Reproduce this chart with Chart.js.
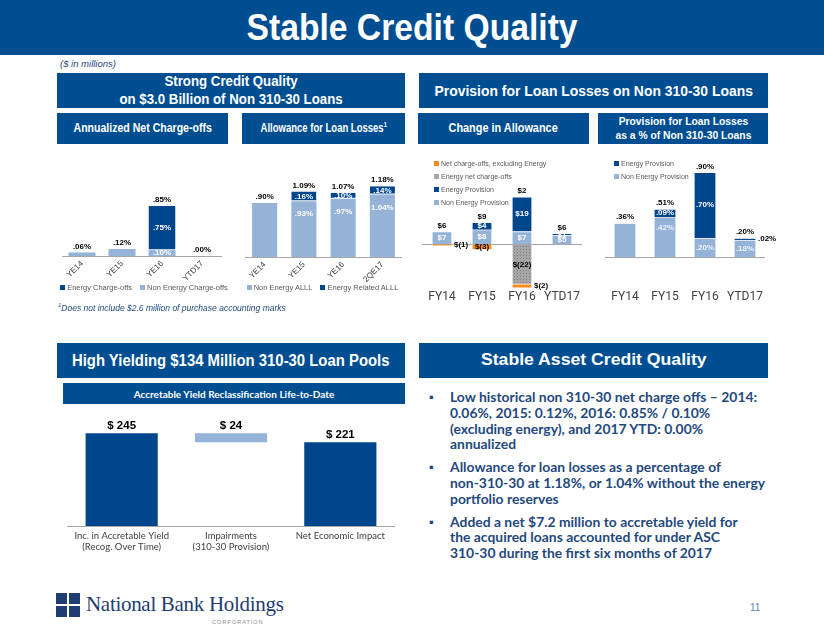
<!DOCTYPE html>
<html>
<head>
<meta charset="utf-8">
<title>Stable Credit Quality</title>
<script src="https://cdn.jsdelivr.net/npm/chart.js@4.4.1/dist/chart.umd.min.js"></script>
<style>
  body { margin: 0; background: #fff; }
  #slide { position: relative; width: 824px; height: 637px; overflow: hidden; font-family: "Liberation Sans", Arial, sans-serif; }
  .box { position: absolute; background: #004e92; color: #fff; display: flex; align-items: center; justify-content: center;
         text-align: center; font-family: "Liberation Sans", Arial, sans-serif; font-weight: bold; line-height: 1.2; }
  .box sup { font-size: 60%; }
  .fit { display: inline-block; white-space: nowrap; }
  canvas { position: absolute; }
  .legend { position: absolute; font-size: 7.5px; color: #595959; white-space: nowrap; line-height: 13px; }
  .legend i { display: inline-block; width: 5px; height: 5px; margin-right: 2px; vertical-align: 0px; }
  .legend.row span { margin: 0 4px; }
  .legend.col { font-size: 7px; }
  .note { position: absolute; font-style: italic; color: #1f497d; white-space: nowrap; }
  #bullets { position: absolute; left: 429px; top: 389px; font-family: Lato, "Liberation Sans", sans-serif; font-weight: bold;
             font-size: 13.9px; line-height: 15.8px; color: #1f497d; }
  #bullets div { position: relative; padding-left: 21px; margin-bottom: 7px; white-space: nowrap; }
  #bullets div:before { content: "\25AA"; position: absolute; left: 0; top: 0; font-size: 11px; }
</style>
</head>
<body>
<div id="slide">
  <div class="box" style="left:0;top:0;width:824px;height:55px;font-size:36px;"><span class="fit" data-w="331">Stable Credit Quality</span></div>
  <div class="note" style="left:60px;top:58px;font-size:9.5px;">($ in millions)</div>

  <div class="box" style="left:57px;top:73px;width:348px;height:35px;font-size:14.5px;"><span class="fit" data-w="223">Strong Credit Quality<br>on $3.0 Billion of Non 310-30 Loans</span></div>
  <div class="box" style="left:419px;top:73px;width:349px;height:35px;font-size:15px;"><span class="fit" data-w="318">Provision for Loan Losses on Non 310-30 Loans</span></div>

  <div class="box" style="left:57px;top:113px;width:171px;height:31px;font-size:12px;"><span class="fit" data-w="138">Annualized Net Charge-offs</span></div>
  <div class="box" style="left:242px;top:113px;width:163px;height:31px;font-size:12px;"><span class="fit" data-w="126">Allowance for Loan Losses<sup>1</sup></span></div>
  <div class="box" style="left:418px;top:113px;width:171px;height:31px;font-size:12px;"><span class="fit" data-w="109">Change in Allowance</span></div>
  <div class="box" style="left:598px;top:113px;width:170px;height:31px;font-size:11px;"><span class="fit" data-w="136">Provision for Loan Losses<br>as a % of Non 310-30 Loans</span></div>

  <canvas id="c1" width="176" height="142" style="left:56px;top:150px;"></canvas>
  <div id="lg1" class="legend row" style="left:56px;top:281px;width:176px;text-align:center;"></div>
  <canvas id="c2" width="175" height="143" style="left:235px;top:150px;"></canvas>
  <div id="lg2" class="legend row" style="left:235px;top:281px;width:175px;text-align:center;"></div>
  <canvas id="c3" width="175" height="165" style="left:415px;top:150px;"></canvas>
  <div id="lg3" class="legend col" style="left:434px;top:157px;"></div>
  <canvas id="c4" width="195" height="160" style="left:590px;top:150px;"></canvas>
  <div id="lg4" class="legend col" style="left:614px;top:157px;"></div>

  <div class="note" style="left:58px;top:302px;font-size:8.5px;"><sup style="font-size:6px;">1</sup>Does not include $2.6 million of purchase accounting marks</div>

  <div class="box" style="left:57px;top:343px;width:348px;height:35px;font-size:16px;"><span class="fit" data-w="317">High Yielding $134 Million 310-30 Loan Pools</span></div>
  <div class="box" style="left:419px;top:343px;width:349px;height:35px;font-size:17px;"><span class="fit" data-w="226">Stable Asset Credit Quality</span></div>
  <div class="box" style="left:63px;top:383px;width:342px;height:21px;font-size:10px;font-family:Lato,sans-serif;">Accretable Yield Reclassification Life-to-Date</div>

  <canvas id="c5" width="345" height="153" style="left:56px;top:405px;"></canvas>

  <div id="bullets">
    <div>Low historical non 310-30 net charge offs &ndash; 2014:<br>0.06%, 2015: 0.12%, 2016: 0.85% / 0.10%<br>(excluding energy), and 2017 YTD: 0.00%<br>annualized</div>
    <div>Allowance for loan losses as a percentage of<br>non-310-30 at 1.18%, or 1.04% without the energy<br>portfolio reserves</div>
    <div>Added a net $7.2 million to accretable yield for<br>the acquired loans accounted for under ASC<br>310-30 during the first six months of 2017</div>
  </div>

  <div style="position:absolute;left:56px;top:593px;width:24px;height:24px;">
    <div style="position:absolute;left:0;top:0;width:11px;height:11px;background:#1f3d73;"></div>
    <div style="position:absolute;left:13px;top:0;width:11px;height:11px;background:#1f3d73;"></div>
    <div style="position:absolute;left:0;top:13px;width:11px;height:11px;background:#1f3d73;"></div>
    <div style="position:absolute;left:13px;top:13px;width:11px;height:11px;background:#1f3d73;"></div>
  </div>
  <div style="position:absolute;left:86px;top:592px;font-family:'Liberation Serif',serif;font-size:21px;color:#1f3d73;letter-spacing:-0.3px;white-space:nowrap;">National Bank Holdings</div>
  <div style="position:absolute;left:212px;top:619px;font-size:5.5px;color:#8a8a8a;letter-spacing:1px;">CORPORATION</div>
  <div style="position:absolute;left:750px;top:602px;font-size:10px;color:#5b7fb0;">11</div>
</div>

<script>
// Annualized net charge-offs (% of loans)
var ncoLabels = ['YE14', 'YE15', 'YE16', 'YTD17'];
var ncoNonEnergy = [0.06, 0.12, 0.10, 0.00];
var ncoEnergy = [0, 0, 0.75, 0];

// Allowance for loan losses (%)
var alllLabels = ['YE14', 'YE15', 'YE16', '2QE17'];
var alllNonEnergy = [0.90, 0.93, 0.97, 1.04];
var alllEnergy = [0, 0.16, 0.10, 0.14];

// Change in allowance ($M)
var chgLabels = ['FY14', 'FY15', 'FY16', 'YTD17'];
var chgNonEnergyProv = [7, 8, 7, 5];
var chgEnergyProv = [0, 4, 19, 1];
var chgEnergyNco = [0, 0, -22, 0];
var chgNcoExEnergy = [-1, -3, -2, 0];

// Provision as % of non 310-30 loans
var provLabels = ['FY14', 'FY15', 'FY16', 'YTD17'];
var provNonEnergy = [0.36, 0.42, 0.20, 0.18];
var provEnergy = [0, 0.09, 0.70, 0.02];

// Accretable yield reclassification ($M)
var ayLabels = [['Inc. in Accretable Yield', '(Recog. Over Time)'], ['Impairments', '(310-30 Provision)'], 'Net Economic Impact'];
var ayValues = [245, -24, 221];

var dark = '#00468c', light = '#95b3d7', orange = '#f28b20', gray = '#a6a6a6';

// squeeze header text to the width it has on the slide
document.querySelectorAll('.fit').forEach(function (s) {
  var w = +s.getAttribute('data-w');
  s.style.transform = 'scaleX(' + (w / s.offsetWidth).toFixed(3) + ')';
});

Chart.defaults.font.family = '"Liberation Sans", Arial, sans-serif';
Chart.defaults.animation = false;
Chart.defaults.plugins.legend.display = false;
Chart.defaults.plugins.tooltip.enabled = false;

function fmtPct(v) { return v.toFixed(2).replace(/^0/, '') + '%'; }
function fmtUsd(v) { return v < 0 ? '$(' + Math.abs(v) + ')' : '$' + v; }

var baseLine = {
  id: 'baseLine',
  beforeDatasetsDraw: function (chart) {
    var a = chart.chartArea, ctx = chart.ctx;
    var y = Math.round(chart.scales.y.getPixelForValue(0)) + 0.5;
    ctx.save();
    ctx.strokeStyle = '#a6a6a6';
    ctx.lineWidth = 1;
    ctx.beginPath();
    ctx.moveTo(a.left, y);
    ctx.lineTo(a.right, y);
    ctx.stroke();
    ctx.restore();
  }
};

// totals above each stack, segment values inside
function stackLabels(cfg) {
  return {
    id: 'stackLabels',
    afterDatasetsDraw: function (chart) {
      var ctx = chart.ctx, ys = chart.scales.y, sets = chart.data.datasets;
      ctx.save();
      ctx.textBaseline = 'middle';
      chart.data.labels.forEach(function (lab, i) {
        var total = 0, pos = 0, count = 0;
        sets.forEach(function (ds) {
          var v = ds.data[i];
          total += v;
          if (v > 0) pos += v;
          if (v !== 0) count++;
        });
        if (count > 1) {
          sets.forEach(function (ds, d) {
            var v = ds.data[i];
            if (v === 0) return;
            var el = chart.getDatasetMeta(d).data[i];
            var top = Math.min(el.y, el.base), bot = Math.max(el.y, el.base);
            var y = (top + bot) / 2, x = el.x;
            if (cfg.nearTop && cfg.nearTop[d]) y = Math.min(y, top + cfg.nearTop[d]);
            ctx.font = cfg.innerFont;
            if (cfg.outside(v, bot - top)) {
              ctx.textAlign = 'left';
              ctx.fillStyle = '#000';
              x = el.x + el.width / 2 + 2;
            } else {
              ctx.textAlign = 'center';
              ctx.fillStyle = cfg.innerColor[d];
            }
            ctx.fillText(cfg.fmt(v), x, y);
          });
        }
        ctx.textAlign = 'center';
        ctx.fillStyle = '#000';
        ctx.font = cfg.totalFont;
        ctx.fillText(cfg.fmt(total), chart.scales.x.getPixelForValue(i), ys.getPixelForValue(pos) - cfg.gap);
      });
      ctx.restore();
    }
  };
}

function xAxis(size, rot, pad, h, color, family) {
  return {
    stacked: true,
    grid: { display: false, drawTicks: false },
    border: { display: false },
    ticks: { color: color, font: { size: size, family: family }, minRotation: rot, maxRotation: rot, padding: pad, autoSkip: false },
    afterFit: function (s) { s.height = h; }
  };
}

function htmlLegend(chart, id, reverse, vertical) {
  var sets = chart.data.datasets.slice();
  if (reverse) sets.reverse();
  document.getElementById(id).innerHTML = sets.map(function (ds) {
    var c = ds.legendColor || ds.backgroundColor;
    return '<span><i style="background:' + c + '"></i>' + ds.label + '</span>';
  }).join(vertical ? '<br>' : '');
}

var axisFont = 'Roboto, "Liberation Sans", sans-serif';
var lblFont = 'bold 8px "Liberation Sans"';

// 1. Annualized net charge-offs
var c1 = new Chart(document.getElementById('c1'), {
  type: 'bar',
  data: {
    labels: ncoLabels,
    datasets: [
      { label: 'Non Energy Charge-offs', data: ncoNonEnergy, backgroundColor: light },
      { label: 'Energy Charge-offs', data: ncoEnergy, backgroundColor: dark, borderColor: '#fff', borderWidth: { bottom: 1 }, borderSkipped: false }
    ]
  },
  options: {
    responsive: false,
    layout: { padding: { left: 6, right: 10, top: 12, bottom: 0 } },
    datasets: { bar: { barPercentage: 0.675, categoryPercentage: 1 } },
    scales: {
      x: xAxis(8, 45, 3, 36, '#404040'),
      y: { display: false, stacked: true, min: 0, max: 1.6 }
    }
  },
  plugins: [baseLine, stackLabels({
    fmt: fmtPct, totalFont: lblFont, innerFont: lblFont, gap: 6,
    innerColor: ['#fff', '#fff'], outside: function () { return false; }
  })]
});
htmlLegend(c1, 'lg1', true, false);

// 2. Allowance for loan losses
var c2 = new Chart(document.getElementById('c2'), {
  type: 'bar',
  data: {
    labels: alllLabels,
    datasets: [
      { label: 'Non Energy ALLL', data: alllNonEnergy, backgroundColor: light },
      { label: 'Energy Related ALLL', data: alllEnergy, backgroundColor: dark, borderColor: '#fff', borderWidth: { bottom: 1 }, borderSkipped: false }
    ]
  },
  options: {
    responsive: false,
    layout: { padding: { left: 10, right: 8, top: 17, bottom: 0 } },
    datasets: { bar: { barPercentage: 0.64, categoryPercentage: 1 } },
    scales: {
      x: xAxis(8, 45, 3, 36, '#404040'),
      y: { display: false, stacked: true, min: 0, max: 1.5 }
    }
  },
  plugins: [baseLine, stackLabels({
    fmt: fmtPct, totalFont: lblFont, innerFont: lblFont, gap: 6,
    innerColor: ['#fff', '#fff'], nearTop: [13, 0], outside: function () { return false; }
  })]
});
htmlLegend(c2, 'lg2', false, false);

// 3. Change in allowance
var cv3 = document.getElementById('c3');
var tile = document.createElement('canvas');
tile.width = 3; tile.height = 3;
var tg = tile.getContext('2d');
tg.fillStyle = gray; tg.fillRect(0, 0, 3, 3);
tg.fillStyle = '#7f7f7f'; tg.fillRect(0, 0, 1, 1);
var dots = cv3.getContext('2d').createPattern(tile, 'repeat');

var c3 = new Chart(cv3, {
  type: 'bar',
  data: {
    labels: chgLabels,
    datasets: [
      { label: 'Non Energy Provision', data: chgNonEnergyProv, backgroundColor: light },
      { label: 'Energy Provision', data: chgEnergyProv, backgroundColor: dark },
      { label: 'Energy net charge-offs', data: chgEnergyNco, backgroundColor: dots, legendColor: gray },
      { label: 'Net charge-offs, excluding Energy', data: chgNcoExEnergy, backgroundColor: orange }
    ]
  },
  options: {
    responsive: false,
    layout: { padding: { left: 7, right: 8, top: 47, bottom: 0 } },
    datasets: { bar: { barPercentage: 0.5, categoryPercentage: 1, borderColor: '#fff', borderWidth: 0.6 } },
    scales: {
      x: xAxis(12, 0, 2, 27, '#404040', axisFont),
      y: { display: false, stacked: true, min: -24, max: 26 }
    }
  },
  plugins: [baseLine, stackLabels({
    fmt: fmtUsd, totalFont: lblFont, innerFont: lblFont, gap: 6,
    innerColor: ['#fff', '#fff', '#000', '#000'],
    outside: function (v, h) { return v < 0 && h < 5; }
  })]
});
htmlLegend(c3, 'lg3', true, true);

// 4. Provision as % of loans (empty band below zero keeps the labels low, as on the slide)
var c4 = new Chart(document.getElementById('c4'), {
  type: 'bar',
  data: {
    labels: provLabels,
    datasets: [
      { label: 'Non Energy Provision', data: provNonEnergy, backgroundColor: light },
      { label: 'Energy Provision', data: provEnergy, backgroundColor: dark }
    ]
  },
  options: {
    responsive: false,
    layout: { padding: { left: 15, right: 20, top: 13, bottom: 0 } },
    datasets: { bar: { barPercentage: 0.55, categoryPercentage: 1, borderColor: '#fff', borderWidth: 0.6 } },
    scales: {
      x: xAxis(12, 0, 2, 22, '#404040', axisFont),
      y: { display: false, stacked: true, min: -0.33, max: 1.0 }
    }
  },
  plugins: [baseLine, stackLabels({
    fmt: fmtPct, totalFont: lblFont, innerFont: lblFont, gap: 6,
    innerColor: ['#eef3fa', '#fff'], nearTop: [10, 0],
    outside: function (v, h) { return h < 5; }
  })]
});
htmlLegend(c4, 'lg4', true, true);

// 5. Accretable yield waterfall
var ayBars = [], running = 0;
ayValues.forEach(function (v, i) {
  if (i === ayValues.length - 1) {
    ayBars.push([0, v]);
  } else {
    ayBars.push(v >= 0 ? [running, running + v] : [running + v, running]);
    running += v;
  }
});

new Chart(document.getElementById('c5'), {
  type: 'bar',
  data: {
    labels: ayLabels,
    datasets: [{ data: ayBars, backgroundColor: [dark, light, dark], barPercentage: 0.66, categoryPercentage: 1 }]
  },
  options: {
    responsive: false,
    layout: { padding: { left: 11, right: 6, top: 15, bottom: 0 } },
    scales: {
      x: {
        grid: { display: false, drawTicks: false }, border: { display: false },
        ticks: { color: '#404040', font: { size: 9.5, family: 'Lato, sans-serif', lineHeight: 1.1 }, padding: 5, maxRotation: 0 },
        afterFit: function (s) { s.height = 32; }
      },
      y: { display: false, min: 0, max: 280 }
    }
  },
  plugins: [baseLine, {
    id: 'ayLabels',
    afterDatasetsDraw: function (chart) {
      var ctx = chart.ctx;
      ctx.save();
      ctx.font = 'bold 11.5px "Liberation Sans"';
      ctx.fillStyle = '#000';
      ctx.textAlign = 'center';
      ctx.textBaseline = 'bottom';
      chart.getDatasetMeta(0).data.forEach(function (el, i) {
        ctx.fillText('$ ' + Math.abs(ayValues[i]), el.x, Math.min(el.y, el.base) - 2);
      });
      ctx.restore();
    }
  }]
});
</script>
</body>
</html>
